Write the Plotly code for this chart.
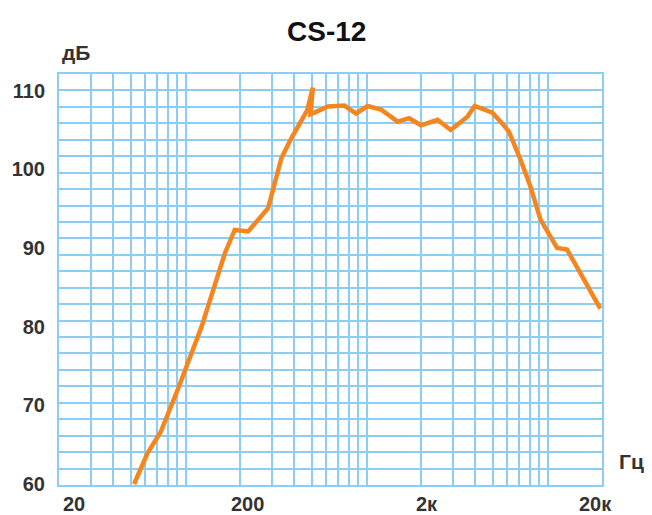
import math
import plotly.graph_objects as go

# ---- data ----
freq_hz = [52, 61.6, 72.9, 91.3, 122.7, 164.8, 187, 221.8, 285.8, 338.4, 384, 470,
           505.6, 490.4, 527, 611.6, 754.8, 875, 1015, 1202, 1486, 1721, 1997, 2468,
           2920, 3610, 3960, 4956, 5506, 6118, 7096, 8054, 9144, 11300, 12830, 19570]
spl_db = [60.0, 63.9, 66.6, 72.2, 80.0, 89.3, 92.3, 92.1, 95.05, 101.4, 103.95, 107.5,
          110.4, 107.0, 107.3, 108.0, 108.1, 107.1, 108.05, 107.6, 106.06, 106.5, 105.6, 106.3,
          105.0, 106.7, 108.05, 107.2, 106.06, 104.8, 101.2, 97.8, 93.6, 90.0, 89.8, 82.3]

y_tick_vals = [60, 70, 80, 90, 100, 110]
x_label_vals = [20, 200, 2000, 20000]
x_label_text = ["20", "200", "2к", "20к"]
x_label_shift = [15, 7, 6, -7]

title_text = "CS-12"
y_unit = "дБ"
x_unit = "Гц"

# grid positions (1..9 multiples per decade)
grid_freqs = [m * 10 ** e for e in range(1, 5) for m in range(1, 10)]
grid_freqs = [g for g in grid_freqs if 20 <= g <= 20000]

GRID = "#8ccdf4"
LINE = "#f5861f"
TXT = "#333333"
FONT = "Liberation Sans, Arial, sans-serif"

y_lo, y_hi = 59.87, 112.12

W, H = 652, 515
ML, MR, MT, MB = 57, 50, 74, 30

fig = go.Figure()
fig.add_trace(go.Scatter(
    x=freq_hz, y=spl_db, mode="lines",
    line=dict(color=LINE, width=4.5, shape="linear"),
    hoverinfo="skip", showlegend=False, cliponaxis=True,
))

fig.update_layout(
    width=W, height=H,
    margin=dict(l=ML, r=MR, t=MT, b=MB, pad=0),
    paper_bgcolor="white", plot_bgcolor="white",
    showlegend=False,
    font=dict(family=FONT, color=TXT),
    xaxis=dict(
        type="log",
        range=[math.log10(20), math.log10(20000)],
        tickmode="array", tickvals=grid_freqs,
        showticklabels=False, ticks="",
        showgrid=True, gridcolor=GRID, gridwidth=2,
        showline=True, linecolor=GRID, linewidth=2, mirror=True,
        zeroline=False, fixedrange=True,
    ),
    yaxis=dict(
        range=[y_lo, y_hi],
        tickmode="array", tickvals=y_tick_vals,
        ticktext=[str(v) for v in y_tick_vals],
        tickfont=dict(family=FONT, size=20, color=TXT, weight="bold"),
        ticks="", ticklabelstandoff=8,
        showgrid=False,
        minor=dict(showgrid=True, gridcolor=GRID, gridwidth=2,
                   tick0=y_lo, dtick=(y_hi - y_lo) / 25, ticks=""),
        showline=True, linecolor=GRID, linewidth=2, mirror=True,
        zeroline=False, fixedrange=True,
    ),
)

pw = W - ML - MR
ph = H - MT - MB
annotations = [
    dict(text="<b>%s</b>" % title_text,
         x=(325 - ML) / pw, y=(H - MB - 31) / ph, xref="paper", yref="paper",
         showarrow=False, font=dict(family=FONT, size=28, color="#111111"),
         xanchor="center", yanchor="middle"),
    dict(text="<b>%s</b>" % y_unit, x=0, y=1, xref="paper", yref="paper",
         xanchor="left", yanchor="bottom", xshift=1, yshift=8,
         showarrow=False, font=dict(family=FONT, size=21, color=TXT)),
    dict(text="<b>%s</b>" % x_unit, x=1, y=0, xref="paper", yref="paper",
         xanchor="left", yanchor="bottom", xshift=15, yshift=10,
         showarrow=False, font=dict(family=FONT, size=21, color=TXT)),
]
for v, t, s in zip(x_label_vals, x_label_text, x_label_shift):
    annotations.append(dict(text="<b>%s</b>" % t, x=math.log10(v), y=0, xref="x", yref="paper",
                            xanchor="center", yanchor="top", xshift=s, yshift=-6,
                            showarrow=False, font=dict(family=FONT, size=20, color=TXT)))
fig.update_layout(annotations=annotations)

fig.write_html("out.html", config={"displayModeBar": False, "staticPlot": True},
               post_script="document.body.style.margin='0';document.body.style.padding='0';")
